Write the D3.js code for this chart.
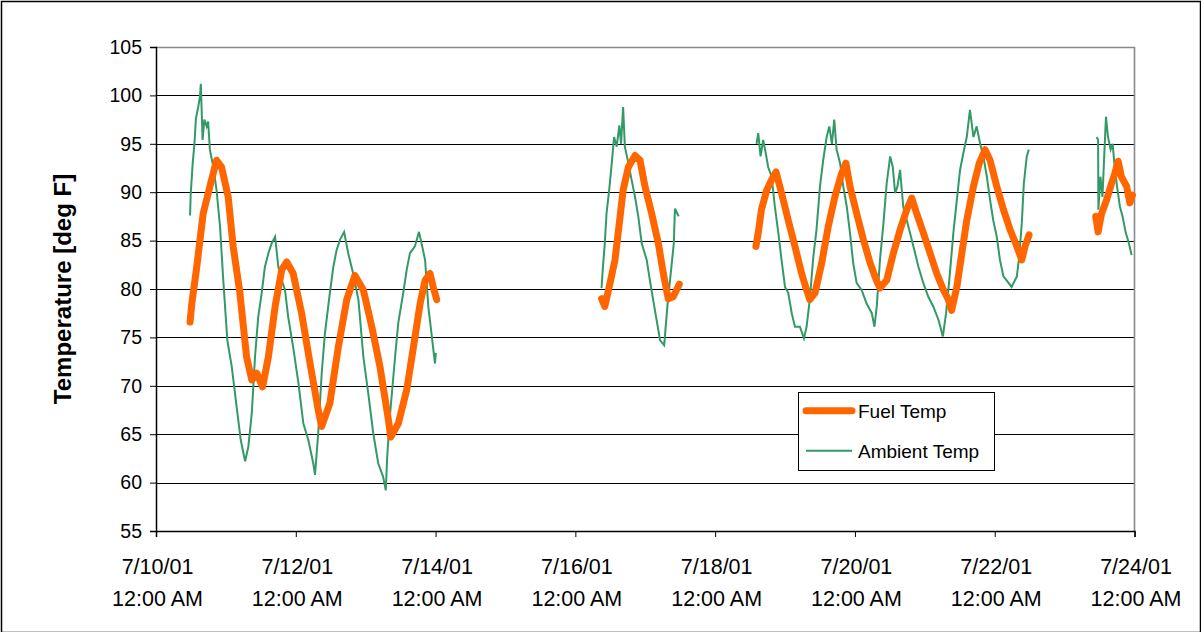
<!DOCTYPE html>
<html>
<head>
<meta charset="utf-8">
<script src="https://cdn.jsdelivr.net/npm/d3@7"></script>
<style>
  html, body { margin: 0; padding: 0; background: #fff; }
  svg { display: block; }
  text { font-family: "Liberation Sans", Arial, sans-serif; fill: #000; }
</style>
</head>
<body>
<svg id="chart" width="1201" height="632"></svg>
<script>
// ---------- data (hours after 7/10/01 12:00 AM; null = gap in logging) ----------
const startDate = new Date(2001, 6, 10, 0, 0, 0);
const endDate = new Date(2001, 6, 24, 0, 0, 0);

const fuelHours = [
  11.7, 12.3, 14.0, 16.2, 19.1, 20.8, 22.5, 24.8, 26.5, 28.8, 31.1, 32.9, 34.6, 36.6, 38.6, 40.9, 43.2, 44.9, 47.1, 50.0,
  52.9, 55.7, 56.9, 59.7, 62.6, 65.5, 68.3, 71.2, 74.1, 76.9, 79.8, 80.6, 83.2, 86.1, 88.4, 90.7, 92.4, 94.1, 95.2, 96.4,
  null,
  153.0, 154.1, 155.9, 157.6, 159.1, 160.4, 162.2, 164.5, 166.2, 167.9, 170.2, 172.5, 174.2, 175.9, 177.6, 179.7,
  null,
  206.0, 206.8, 207.9, 209.7, 211.4, 212.9, 214.8, 217.1, 219.4, 221.7, 223.4, 224.5, 226.3, 228.6, 230.8, 233.1, 235.4, 236.9, 238.3, 240.6,
  242.9, 245.2, 247.5, 248.6, 250.9, 253.2, 255.5, 257.8, 259.5, 261.2, 263.5, 265.8, 268.1, 270.4, 272.1, 273.2, 275.0, 276.7, 278.4, 280.7,
  282.7, 284.7, 286.4, 288.7, 291.0, 293.3, 295.6, 297.3, 298.4, 299.8,
  null,
  322.7, 323.5, 324.7, 326.4, 328.1, 329.2, 330.4, 331.5, 333.3, 334.4, 335.3
];
const fuelTemps = [
  76.6, 78.5, 82.3, 87.8, 91.3, 93.3, 92.6, 89.5, 84.4, 79.6, 73.0, 70.6, 71.3, 69.9, 73.0, 78.2, 82.0, 82.8, 81.6, 77.5,
  72.3, 67.5, 65.8, 68.2, 74.0, 78.9, 81.4, 79.9, 76.1, 72.0, 66.5, 64.7, 66.1, 69.6, 74.0, 78.5, 80.9, 81.6, 80.2, 78.9,
  null,
  79.0, 78.2, 80.6, 83.0, 86.8, 90.2, 92.6, 93.8, 93.3, 90.6, 87.8, 84.7, 81.6, 79.0, 79.2, 80.5,
  null,
  84.4, 85.8, 88.2, 90.2, 91.3, 92.1, 89.9, 87.1, 84.4, 81.6, 79.9, 78.9, 79.6, 82.7, 86.4, 89.5, 91.9, 93.0, 90.6, 87.8,
  85.1, 82.7, 80.8, 80.1, 80.9, 83.7, 86.1, 88.2, 89.4, 87.8, 85.8, 83.7, 81.6, 79.9, 78.9, 77.8, 80.2, 83.7, 87.1, 90.6,
  93.0, 94.4, 93.3, 90.6, 88.2, 86.1, 84.4, 83.0, 84.4, 85.6,
  null,
  87.5, 85.9, 87.8, 89.2, 90.9, 91.9, 93.2, 91.6, 90.6, 88.9, 89.7
];

const ambientHours = [
  11.7, 11.9, 12.6, 13.2, 13.7, 14.5, 15.1, 15.4, 16.0, 16.6, 17.4, 17.9, 18.5, 19.7, 20.8, 22.0, 23.1, 24.5, 26.0, 27.7,
  29.1, 30.6, 31.7, 32.9, 34.0, 35.1, 36.3, 37.4, 38.6, 39.7, 40.9, 42.0, 43.2, 44.3, 45.4, 47.1, 48.9, 50.6, 52.3, 54.0,
  54.6, 55.7, 56.9, 58.0, 59.7, 60.9, 62.0, 63.2, 64.6, 66.0, 67.7, 69.5, 71.2, 72.9, 74.6, 76.3, 78.0, 78.9, 79.4, 80.3,
  82.1, 83.2, 84.9, 86.1, 87.2, 88.9, 90.3, 91.2, 92.4, 93.5, 94.6, 95.8, 96.1,
  null,
  153.0, 153.4, 154.1, 154.7, 155.6, 156.5, 157.3, 158.2, 159.1, 159.7, 160.4, 161.0, 162.2, 163.3, 164.5, 165.6, 166.8, 168.5, 169.6, 170.7,
  171.9, 173.1, 174.5, 175.6, 176.5, 177.8, 178.2, 179.0, 179.5,
  null,
  206.2, 206.8, 207.6, 208.5, 209.4, 210.2, 211.4, 212.5, 213.7, 214.8, 216.0, 217.1, 218.3, 219.4, 221.1, 222.5, 223.4, 224.5, 225.7, 226.8,
  228.0, 229.1, 230.3, 231.2, 232.1, 232.9, 233.7, 234.9, 236.0, 237.2, 238.3, 239.4, 240.6, 242.3, 244.0, 245.8, 246.7, 247.5, 248.6, 249.8,
  250.9, 252.1, 253.0, 253.8, 254.6, 255.5, 256.1, 256.6, 257.8, 258.9, 260.1, 261.8, 263.5, 265.2, 266.9, 268.7, 270.2, 271.3, 272.4, 273.8,
  275.0, 276.1, 277.2, 278.4, 279.5, 280.7, 281.8, 283.0, 284.1, 285.3, 286.4, 287.5, 288.7, 289.8, 291.0, 292.1, 293.8, 295.6, 296.4, 297.3,
  298.0, 299.0, 299.7,
  null,
  323.0, 323.5, 323.6, 324.3, 325.0, 325.5, 326.2, 326.9, 327.8, 328.5, 329.2, 330.0, 331.0, 331.9, 333.0, 334.1, 335.0
];
const ambientTemps = [
  87.6, 89.7, 93.0, 95.0, 97.6, 98.8, 99.9, 101.2, 95.4, 97.5, 96.8, 97.3, 94.4, 92.6, 90.2, 86.4, 80.9, 74.7, 72.0, 67.8,
  64.4, 62.2, 63.7, 67.2, 73.0, 77.1, 79.6, 82.3, 83.7, 84.7, 85.4, 82.3, 80.9, 79.9, 77.1, 74.0, 70.3, 66.1, 64.4, 62.0,
  60.8, 65.1, 71.3, 75.4, 79.6, 82.3, 84.0, 85.1, 85.9, 83.7, 81.6, 78.9, 73.0, 69.2, 65.1, 62.0, 60.6, 59.2, 62.7, 66.8,
  73.0, 76.5, 79.6, 82.0, 83.7, 84.4, 85.9, 84.7, 83.0, 78.2, 75.4, 72.3, 73.4,
  null,
  80.1, 82.0, 84.7, 87.8, 90.2, 93.0, 95.7, 94.7, 96.9, 95.0, 98.8, 94.7, 93.0, 91.3, 89.5, 87.5, 84.7, 83.0, 80.9, 78.9,
  76.8, 74.7, 74.2, 78.2, 80.9, 84.7, 88.3, 87.8, 87.5,
  null,
  95.0, 96.1, 93.7, 95.4, 94.0, 92.6, 91.6, 88.5, 85.8, 83.0, 80.2, 79.6, 77.5, 76.1, 76.1, 74.9, 76.1, 78.9, 83.3, 86.1,
  90.6, 93.3, 95.7, 96.8, 95.0, 97.5, 94.4, 93.0, 90.6, 88.5, 85.8, 82.7, 80.6, 79.9, 78.5, 77.5, 76.1, 78.2, 83.0, 86.8,
  90.9, 93.7, 92.6, 89.9, 90.6, 92.3, 90.2, 88.5, 87.1, 85.8, 84.4, 82.3, 80.6, 79.2, 78.2, 76.8, 75.1, 77.5, 80.9, 85.8,
  89.2, 92.3, 94.0, 95.7, 98.5, 95.7, 96.8, 95.0, 93.7, 91.6, 89.2, 87.1, 85.4, 83.0, 81.3, 80.9, 80.2, 81.3, 83.3, 86.8,
  90.9, 93.7, 94.4,
  null,
  95.7, 95.4, 88.2, 91.6, 89.5, 93.0, 97.8, 95.7, 94.4, 95.0, 92.6, 90.6, 88.5, 87.5, 85.8, 84.7, 83.5
];

const yTicks = [55, 60, 65, 70, 75, 80, 85, 90, 95, 100, 105];
const xTickDates = ["7/10/01", "7/12/01", "7/14/01", "7/16/01", "7/18/01", "7/20/01", "7/22/01", "7/24/01"];
const xTickTime = "12:00 AM";
const seriesNames = ["Fuel Temp", "Ambient Temp"];
const yTitle = "Temperature [deg F]";

// ---------- layout ----------
const svg = d3.select("#chart");
const plot = { left: 156, right: 1134.5, top: 47, bottom: 531 };
const fuelColor = "#FF6600";
const ambColor = "#339966";

const x = d3.scaleTime().domain([startDate, endDate]).range([plot.left, plot.right]);
const y = d3.scaleLinear().domain([55, 105]).range([plot.bottom, plot.top]);

const toDate = h => h == null ? null : new Date(startDate.getTime() + h * 3600 * 1000);
const fuelData = fuelHours.map((h, i) => ({ d: toDate(h), v: fuelTemps[i] }));
const ambData = ambientHours.map((h, i) => ({ d: toDate(h), v: ambientTemps[i] }));

// outer frame
svg.append("rect").attr("x", 1.5).attr("y", 1.5).attr("width", 1199).attr("height", 631)
  .attr("fill", "none").attr("stroke", "#000").attr("stroke-width", 1.5);

// gridlines
svg.append("g").selectAll("line").data(yTicks.filter(t => t > 55 && t < 105)).join("line")
  .attr("x1", plot.left).attr("x2", plot.right)
  .attr("y1", d => Math.round(y(d)) + 0.5).attr("y2", d => Math.round(y(d)) + 0.5)
  .attr("stroke", "#000").attr("stroke-width", 1);

// plot border top and right (gray)
svg.append("path")
  .attr("d", `M${plot.left},${plot.top + 0.5}H${plot.right}V${plot.bottom}`)
  .attr("fill", "none").attr("stroke", "#8a8a8a").attr("stroke-width", 1.6);

// series
const line = d3.line().defined(p => p.d != null && p.v != null).x(p => x(p.d)).y(p => y(p.v));
svg.append("path").datum(ambData).attr("d", line)
  .attr("fill", "none").attr("stroke", ambColor).attr("stroke-width", 2).attr("stroke-linejoin", "miter");
svg.append("path").datum(fuelData).attr("d", line)
  .attr("fill", "none").attr("stroke", fuelColor).attr("stroke-width", 7)
  .attr("stroke-linejoin", "round").attr("stroke-linecap", "round");

// y axis
const yAxis = d3.axisLeft(y).tickValues(yTicks).tickSize(6).tickPadding(8);
const gy = svg.append("g").attr("transform", `translate(${plot.left},0)`).call(yAxis);
gy.select(".domain").attr("stroke", "#000").attr("stroke-width", 1.5);
gy.selectAll(".tick line").attr("stroke", "#000");
gy.selectAll(".tick text").attr("font-size", "19.5px").attr("font-family", "Liberation Sans, Arial, sans-serif").attr("fill", "#000");

// x axis
const xTickVals = xTickDates.map((s, i) => d3.timeDay.offset(startDate, i * 2));
const xAxis = d3.axisBottom(x).tickValues(xTickVals).tickSize(6).tickFormat(() => "");
const gx = svg.append("g").attr("transform", `translate(0,${plot.bottom})`).call(xAxis);
gx.select(".domain").attr("stroke", "#000").attr("stroke-width", 1.5);
gx.selectAll(".tick line").attr("stroke", "#000");
gx.selectAll(".tick").each(function (d, i) {
  const g = d3.select(this);
  g.append("text").attr("x", 1).attr("y", 43).attr("text-anchor", "middle")
    .attr("font-size", "21.5px").text(xTickDates[i]);
  g.append("text").attr("x", 1).attr("y", 75).attr("text-anchor", "middle")
    .attr("font-size", "21.5px").text(xTickTime);
});

// y title
svg.append("text")
  .attr("transform", "translate(71,289) rotate(-90)")
  .attr("text-anchor", "middle").attr("font-size", "24px").attr("font-weight", "bold")
  .text(yTitle);

// legend
const lg = svg.append("g");
lg.append("rect").attr("x", 798.5).attr("y", 392.5).attr("width", 196).attr("height", 78)
  .attr("fill", "#fff").attr("stroke", "#000").attr("stroke-width", 1);
const legendItems = [
  { name: seriesNames[0], color: fuelColor, w: 7, cy: 410.7 },
  { name: seriesNames[1], color: ambColor, w: 2, cy: 450.7 }
];
legendItems.forEach(it => {
  lg.append("line").attr("x1", 806).attr("x2", 852).attr("y1", it.cy).attr("y2", it.cy)
    .attr("stroke", it.color).attr("stroke-width", it.w).attr("stroke-linecap", it.w > 3 ? "round" : "butt");
  lg.append("text").attr("x", 858).attr("y", it.cy + 7).attr("font-size", "19px").text(it.name);
});
</script>
</body>
</html>
